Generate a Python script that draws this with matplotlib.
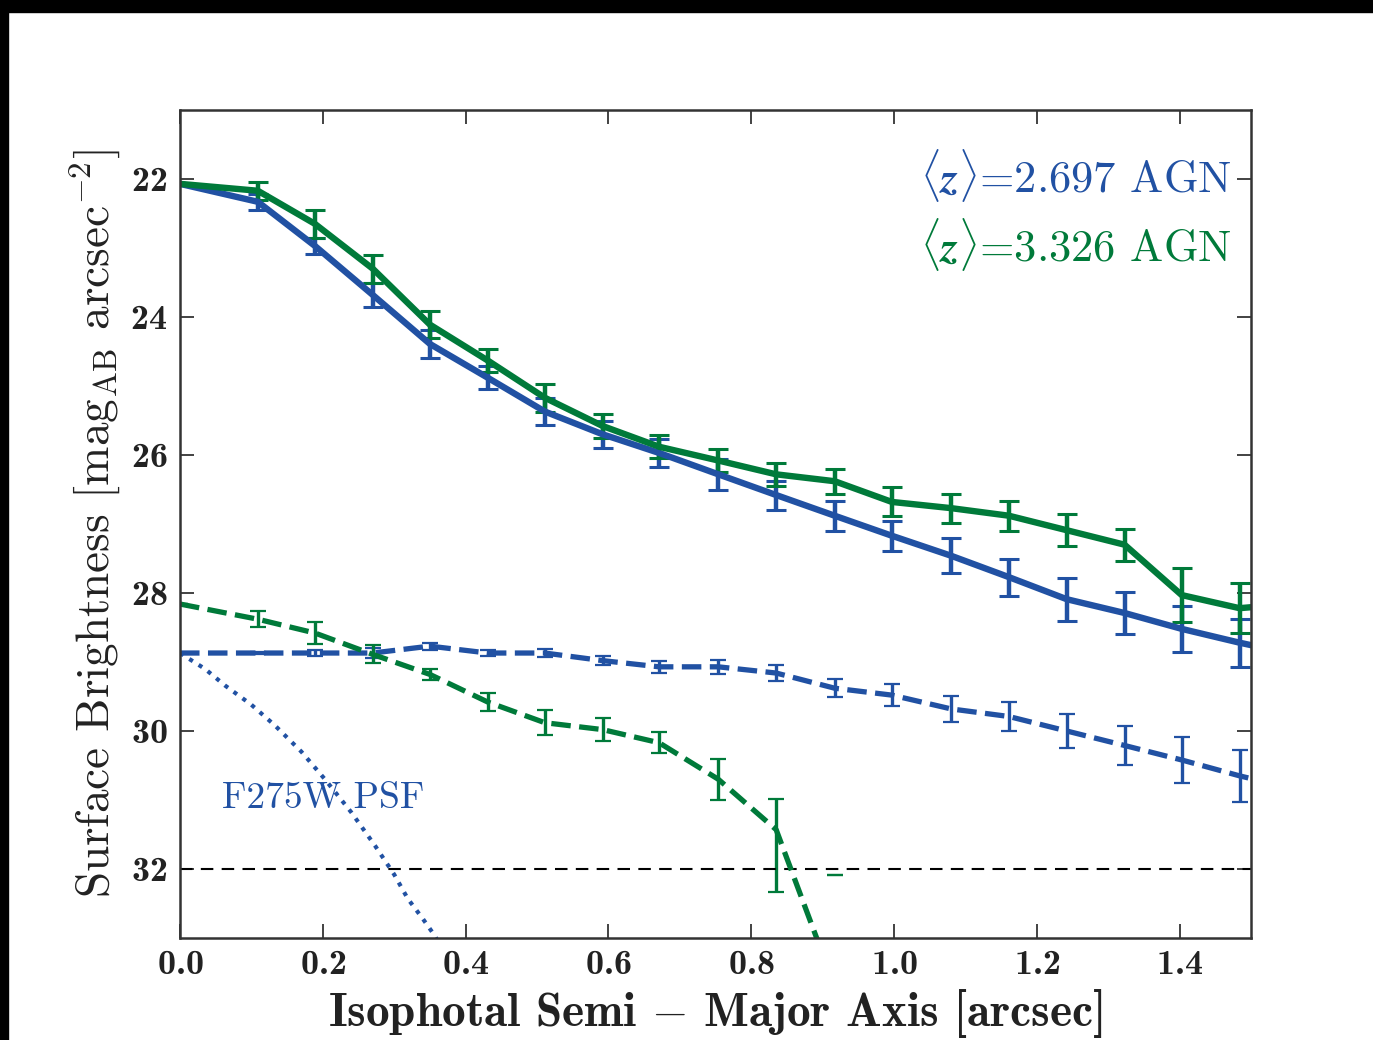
import matplotlib
matplotlib.use("Agg")
import matplotlib.pyplot as plt
from matplotlib.patches import Rectangle
import numpy as np

plt.rcParams['font.family'] = 'cmr10'
plt.rcParams['mathtext.fontset'] = 'cm'
plt.rcParams['axes.unicode_minus'] = False
plt.rcParams['axes.formatter.use_mathtext'] = True

BLUE = '#2151a3'
GREEN = '#007a3a'

# isophotal radii [arcsec]
radius = [0.0, 0.109, 0.189, 0.270, 0.350, 0.431, 0.511, 0.592, 0.671, 0.754,
          0.835, 0.917, 0.997, 1.080, 1.161, 1.242, 1.323, 1.403, 1.484, 1.565]

# <z>=2.697 AGN, total profile
sb_lowz = [22.07, 22.33, 22.97, 23.68, 24.39, 24.88, 25.37, 25.70, 25.97, 26.28,
           26.58, 26.88, 27.17, 27.46, 27.77, 28.09, 28.29, 28.52, 28.72, 28.90]
err_lowz = [0.0, 0.12, 0.12, 0.17, 0.20, 0.17, 0.20, 0.20, 0.20, 0.22,
            0.21, 0.22, 0.22, 0.25, 0.27, 0.31, 0.30, 0.33, 0.35, 0.35]

# <z>=3.326 AGN, total profile
sb_highz = [22.07, 22.17, 22.65, 23.30, 24.11, 24.63, 25.17, 25.58, 25.88, 26.08,
            26.28, 26.38, 26.68, 26.77, 26.88, 27.09, 27.30, 28.03, 28.22, 28.15]
err_highz = [0.0, 0.13, 0.20, 0.20, 0.20, 0.17, 0.20, 0.17, 0.17, 0.17,
             0.17, 0.18, 0.21, 0.21, 0.22, 0.23, 0.23, 0.39, 0.36, 0.36]

# <z>=2.697 AGN, host (dashed)
sb_lowz_host = [28.87, 28.87, 28.87, 28.87, 28.77, 28.87, 28.87, 28.98, 29.07, 29.07,
                29.16, 29.38, 29.48, 29.68, 29.79, 30.00, 30.21, 30.42, 30.65, 30.85]
err_lowz_host = [0.0, 0.02, 0.05, 0.07, 0.05, 0.05, 0.06, 0.07, 0.09, 0.10,
                 0.11, 0.13, 0.16, 0.19, 0.21, 0.24, 0.28, 0.33, 0.38, 0.40]

# <z>=3.326 AGN, host (dashed)
radius_hz_host = [0.0, 0.109, 0.189, 0.270, 0.350, 0.431, 0.511, 0.592, 0.671, 0.754,
                  0.835, 0.917]
sb_highz_host = [28.16, 28.38, 28.58, 28.89, 29.18, 29.58, 29.88, 29.98, 30.17, 30.70,
                 31.43, 33.70]
err_highz_host_lo = [0.0, 0.12, 0.16, 0.13, 0.085, 0.13, 0.18, 0.17, 0.15, 0.30,
                     0.44, 0.0]
err_highz_host_hi = [0.0, 0.12, 0.16, 0.13, 0.085, 0.13, 0.18, 0.17, 0.15, 0.30,
                     0.91, 0.0]
# lone upper cap of the last point (lower bound undefined)
cap_x = [0.917]
cap_y = [32.09]

# F275W PSF profile
psf_r = [0.0, 0.009, 0.035, 0.063, 0.100, 0.133, 0.170, 0.203, 0.240, 0.273,
         0.300, 0.319, 0.340, 0.357, 0.380]
psf_sb = [28.87, 28.93, 29.10, 29.34, 29.62, 29.92, 30.30, 30.70, 31.18, 31.66,
          32.08, 32.43, 32.72, 32.97, 33.40]

sb_limit = 32.0

fig = plt.figure(figsize=(13.73, 10.40), dpi=100)
ax = fig.add_axes([0.1311, 0.0981, 0.7800, 0.7961])

ax.errorbar(radius, sb_lowz_host, yerr=err_lowz_host, color=BLUE, ls='--', lw=3.8,
            elinewidth=2.4, capsize=6, capthick=1.6)
ax.errorbar(radius_hz_host, sb_highz_host, yerr=[err_highz_host_lo, err_highz_host_hi],
            color=GREEN, ls='--', lw=3.8, elinewidth=2.4, capsize=6, capthick=1.6)
ax.errorbar(cap_x, cap_y, yerr=0, fmt='none', ecolor=GREEN, capsize=6, capthick=1.6)
ax.errorbar(radius, sb_lowz, yerr=err_lowz, color=BLUE, lw=4.6,
            elinewidth=3.2, capsize=7, capthick=2.2)
ax.errorbar(radius, sb_highz, yerr=err_highz, color=GREEN, lw=4.6,
            elinewidth=3.2, capsize=7, capthick=2.2)
ax.plot(psf_r, psf_sb, color=BLUE, ls=':', lw=3.0)
ax.axhline(sb_limit, color='black', lw=1.5, dashes=(6, 4))

ax.set_xlim(0, 1.5)
ax.set_ylim(33, 21)
ax.set_xticks(np.arange(0, 1.41, 0.2))
ax.set_yticks([22, 24, 26, 28, 30, 32])
ax.tick_params(direction='in', length=10, width=1.2, top=True, right=True, pad=9,
               labelsize=26, colors='#222222')
for lab in ax.get_xticklabels() + ax.get_yticklabels():
    lab.set_fontfamily('cmb10')
for sp in ax.spines.values():
    sp.set_linewidth(1.8)
    sp.set_color('#333333')

ax.set_xlabel(r'Isophotal Semi $-$ Major Axis [arcsec]', fontfamily='cmb10',
              fontsize=34, color='#222222', labelpad=4)
ax.set_ylabel(r'Surface Brightness [mag$_{\rm AB}$ arcsec$^{-2}$]', fontsize=34,
              color='#222222', labelpad=6)

ax.text(0.982, 0.9215, r'$\langle \boldsymbol{z} \rangle$=2.697 AGN', color=BLUE,
        fontsize=32, ha='right', va='center', transform=ax.transAxes)
ax.text(0.982, 0.837, r'$\langle \boldsymbol{z} \rangle$=3.326 AGN', color=GREEN,
        fontsize=32, ha='right', va='center', transform=ax.transAxes)
ax.text(0.059, 30.97, 'F275W PSF', color=BLUE, fontsize=27, ha='left', va='center')

# screenshot frame
fig.patches.append(Rectangle((0, 1 - 12 / 1040), 1, 12 / 1040,
                             transform=fig.transFigure, color='black', zorder=-1))
fig.patches.append(Rectangle((0, 0), 8 / 1373, 1,
                             transform=fig.transFigure, color='black', zorder=-1))

fig.savefig('out.png', dpi=100)
